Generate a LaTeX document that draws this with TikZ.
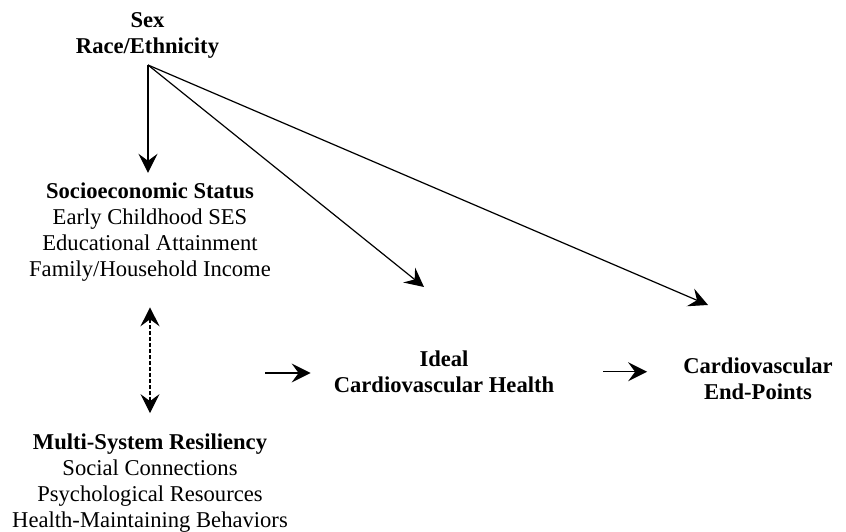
\documentclass[tikz,border=0pt]{standalone}
\usepackage{fontspec}
\setmainfont{Liberation Serif}
\usetikzlibrary{arrows.meta}
\begin{document}
\begin{tikzpicture}[x=1pt,y=1pt,
  txt/.style={align=center, inner sep=0pt, font=\fontsize{22.6}{26}\selectfont},
  tip/.style={Stealth[length=19pt,width=19pt,inset=7pt]},
  arr/.style={line width=1.2pt, -{Stealth[length=19pt,width=19pt,inset=7pt]}},
  darr/.style={line width=1.2pt, dash pattern=on 4pt off 2pt, {Stealth[length=19pt,width=19pt,inset=7pt]}-{Stealth[length=19pt,width=19pt,inset=7pt]}}]
\useasboundingbox (0,0) rectangle (846,532);
\node[txt] (sex) at (147.5,497) {\textbf{Sex}\\\textbf{Race/Ethnicity}};
\node[txt] (ses) at (150,300.2) {\textbf{Socioeconomic Status}\\Early Childhood SES\\Educational Attainment\\Family/Household Income};
\node[txt] (msr) at (150,48.5) {\textbf{Multi-System Resiliency}\\Social Connections\\Psychological Resources\\Health-Maintaining Behaviors};
\node[txt] (ideal) at (444,160.2) {\textbf{Ideal}\\\textbf{Cardiovascular Health}};
\node[txt] (cve) at (758,153.2) {\textbf{Cardiovascular}\\\textbf{End-Points}};
\coordinate (src) at (148,467);
\coordinate (t1) at (424,245);
\coordinate (t2) at (708,227);
\coordinate (a1) at (265,159);
\draw[arr, shorten >=9.5pt] (src) -- (src |- ses.north);
\draw[arr] (src) -- (t1);
\draw[arr] (src) -- (t2);
\draw[darr, shorten <=26pt, shorten >=20.9pt] (ses.south) -- (msr.north);
\draw[arr] (a1) -- ([xshift=-23pt]ideal.west |- a1);
\draw[arr] ([xshift=49pt]ideal.east) -- ([xshift=-36pt]cve.west |- ideal.east);
\end{tikzpicture}
\end{document}
